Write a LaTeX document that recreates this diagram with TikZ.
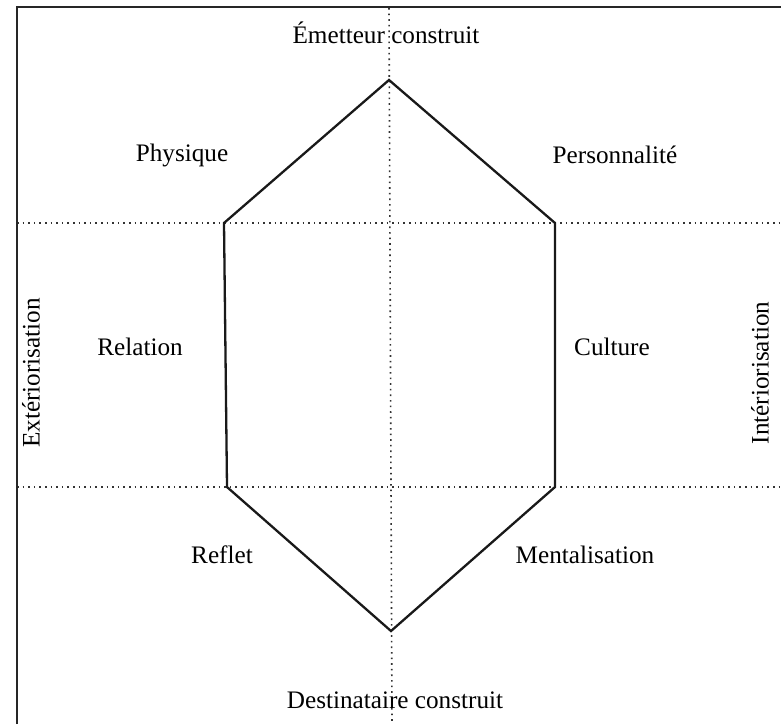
\documentclass[tikz,border=0pt]{standalone}
\usepackage{fontspec}
\setmainfont{Liberation Serif}
\begin{document}
\begin{tikzpicture}[x=0.5pt,y=-0.5pt,
  lbl/.style={font=\fontsize{12.6}{14}\selectfont, inner sep=0pt},
  frame/.style={line width=1.1pt, draw=black!85},
  hexa/.style={line width=1.15pt, draw=black!90, line join=miter},
  axis/.style={line width=0.8pt, dotted, draw=black!80}]
\useasboundingbox (0,0) rectangle (781,724);
% vertices
\coordinate (T) at (389,80);
\coordinate (UL) at (224,223);
\coordinate (UR) at (555,223);
\coordinate (LL) at (227,487);
\coordinate (LR) at (555,487);
\coordinate (B) at (391,631);
% axis ends
\coordinate (vt) at (389,8);
\coordinate (vb) at (392,724);
\coordinate (h1l) at (17,223);
\coordinate (h1r) at (781,223);
\coordinate (h2l) at (17,487);
\coordinate (h2r) at (781,487);
\coordinate (fc) at (17,7);
\coordinate (fr) at (781,7);
\coordinate (fb) at (17,724);
% dotted axes
\draw[axis] (vt) -- (vb);
\draw[axis] (h1l) -- (h1r);
\draw[axis] (h2l) -- (h2r);
% frame
\draw[frame] (fb) -- (fc) -- (fr);
% hexagon
\draw[hexa] (T) -- (UR) -- (LR) -- (B) -- (LL) -- (UL) -- cycle;
% labels
\node[lbl] (em) at (386,33) {Émetteur construit};
\node[lbl] (ph) at (182,155) {Physique};
\node[lbl] (pe) at (615,155) {Personnalité};
\node[lbl] (re) at (140,347) {Relation};
\node[lbl] (cu) at (612,347) {Culture};
\node[lbl] (rf) at (222,555) {Reflet};
\node[lbl] (me) at (585,555) {Mentalisation};
\node[lbl] (de) at (395,700) {Destinataire construit};
\node[lbl, rotate=90] (ex) at (31,373) {Extériorisation};
\node[lbl, rotate=90] (in) at (760,373) {Intériorisation};
\end{tikzpicture}
\end{document}
